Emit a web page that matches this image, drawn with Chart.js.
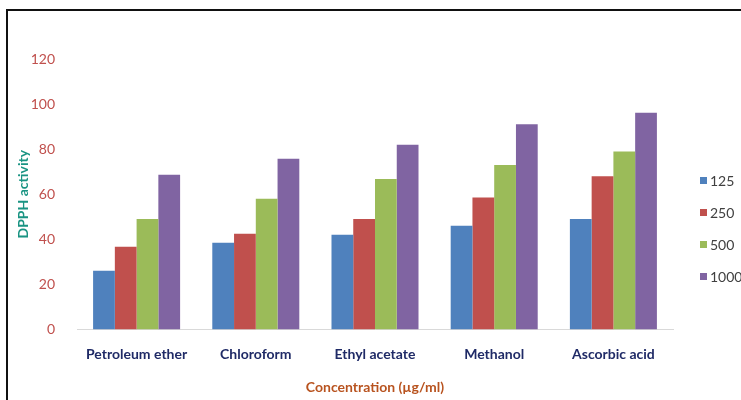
<!DOCTYPE html>
<html>
<head>
<meta charset="utf-8">
<script src="https://cdn.jsdelivr.net/npm/chart.js@4.4.1/dist/chart.umd.min.js"></script>
<style>
    html, body {margin: 0; padding: 0; background: #fff;}
    .chart_box {position: relative; width: 741px; height: 400px; overflow: hidden;}
    .frame {position: absolute; left: 6px; top: 9px; width: 760px; height: 420px; border: 2px solid #111; box-sizing: border-box;}
    canvas {position: absolute; left: 0; top: 0;}
</style>
</head>
<body>
<div class="chart_box">
    <div class="frame"></div>
    <canvas id="chart_dpph" width="741" height="400"></canvas>
</div>
<script>
//chart - data
const categories = ['Petroleum ether', 'Chloroform', 'Ethyl acetate', 'Methanol', 'Ascorbic acid'];
const seriesLabels = ['125', '250', '500', '1000'];
const values125 = [26, 38.5, 42, 46, 49];
const values250 = [36.7, 42.5, 49, 58.5, 68];
const values500 = [49, 58, 66.8, 73, 79];
const values1000 = [68.6, 75.7, 82, 91, 96.2];
const seriesColors = ['#4f81bd', '#c0504d', '#9bbb59', '#8064a2'];

const fontFamily = "Lato, 'Open Sans', sans-serif";

//legend - 우측 범례 직접 그리기
const sideLegend = {
    id: 'sideLegend',
    afterDraw(chart) {
        const {ctx} = chart;
        ctx.save();
        ctx.font = `14px ${fontFamily}`;
        ctx.textBaseline = 'middle';
        chart.data.datasets.forEach((ds, i) => {
            const y = 180 + i * 32;
            ctx.fillStyle = ds.backgroundColor;
            ctx.fillRect(700, y - 3, 7, 7);
            ctx.fillStyle = '#404040';
            ctx.fillText(ds.label, 710, y + 1);
        });
        ctx.restore();
    }
};

const datasets = [values125, values250, values500, values1000].map((data, i) => ({
    label: seriesLabels[i],
    data,
    backgroundColor: seriesColors[i],
    borderWidth: 0,
    barPercentage: 1,
    categoryPercentage: 0.73
}));

new Chart(document.getElementById('chart_dpph'), {
    type: 'bar',
    data: {labels: categories, datasets},
    options: {
        responsive: false,
        animation: false,
        layout: {padding: {left: 6, right: 68, top: 59, bottom: 4}},
        plugins: {
            legend: {display: false},
            tooltip: {enabled: false}
        },
        scales: {
            y: {
                min: 0,
                max: 120,
                afterFit(scale) {scale.width = 71;}, //y축 영역 폭 고정
                ticks: {
                    stepSize: 20,
                    padding: 14,
                    color: '#c0504d',
                    font: {family: fontFamily, size: 14}
                },
                grid: {display: false},
                border: {display: false},
                title: {
                    display: true,
                    text: 'DPPH activity',
                    color: '#1a9483',
                    font: {family: fontFamily, size: 14, weight: 'bold'},
                    padding: {top: 9, bottom: 0}
                }
            },
            x: {
                ticks: {
                    padding: 9,
                    maxRotation: 0,
                    minRotation: 0,
                    autoSkip: false,
                    color: '#1f2a66',
                    font: {family: fontFamily, size: 14, weight: 'bold'}
                },
                grid: {display: false},
                border: {display: true, color: '#d9d9d9', width: 1},
                title: {
                    display: true,
                    text: 'Concentration (µg/ml)',
                    color: '#b8531f',
                    font: {family: fontFamily, size: 14, weight: 'bold'},
                    padding: {top: 7, bottom: 0}
                }
            }
        }
    },
    plugins: [sideLegend]
});
</script>
</body>
</html>
